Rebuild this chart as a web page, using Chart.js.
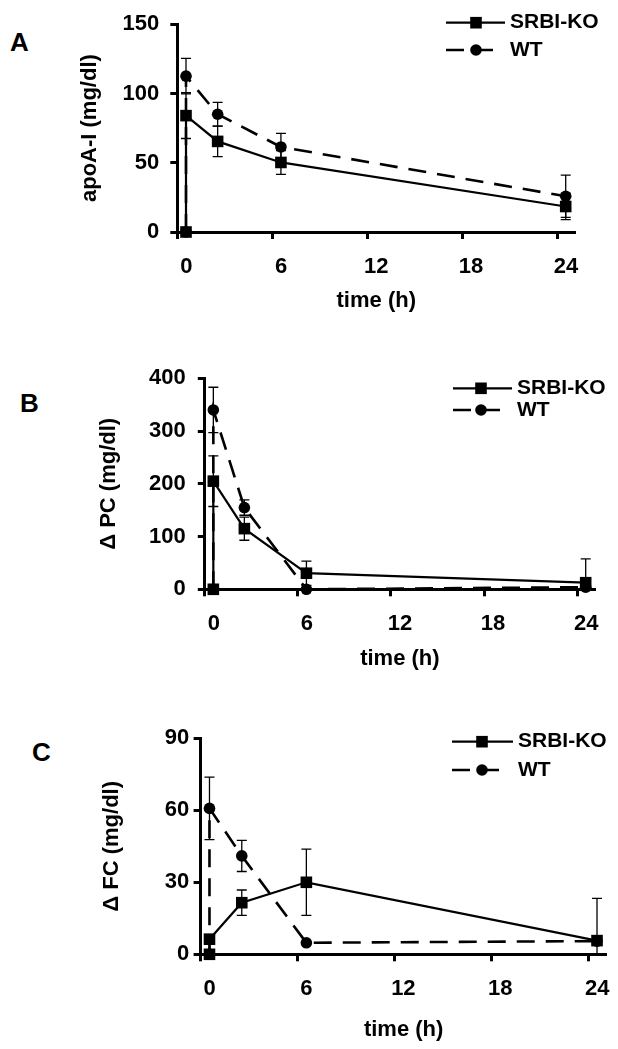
<!DOCTYPE html>
<html>
<head>
<meta charset="utf-8">
<script src="https://cdn.jsdelivr.net/npm/chart.js@4.4.1/dist/chart.umd.min.js"></script>
<style>
html,body{margin:0;padding:0;background:#fff;}
body{width:618px;height:1049px;position:relative;overflow:hidden;font-family:"Liberation Sans",Arial,sans-serif;}
canvas{position:absolute;left:0;}
.letter{position:absolute;font-weight:bold;font-size:26px;line-height:1;color:#000;font-family:"Liberation Sans",Arial,sans-serif;}
</style>
</head>
<body>
<div class="letter" style="left:10px;top:29px;">A</div>
<div class="letter" style="left:20px;top:390px;">B</div>
<div class="letter" style="left:32px;top:739px;">C</div>
<canvas id="cA" width="618" height="340" style="top:0px;width:618px;height:340px;"></canvas>
<canvas id="cB" width="618" height="365" style="top:340px;width:618px;height:365px;"></canvas>
<canvas id="cC" width="618" height="344" style="top:705px;width:618px;height:344px;"></canvas>
<script>
// ---------- data ----------
const timeH = [0, 0, 2, 6, 24];
const xTickValues = [0, 6, 12, 18, 24];
const xTickLabels = ['0', '6', '12', '18', '24'];
const seriesNames = ['SRBI-KO', 'WT'];
const xTitle = 'time (h)';

// Panel A: apoA-I
const apoA_SRBIKO = [0, 84, 65.4, 50.2, 18.4];
const apoA_SRBIKO_err = [0, 16.5, 11, 8.6, 9.5];
const apoA_WT = [0, 112.5, 85, 61.4, 25.8];
const apoA_WT_err = [0, 12.8, 8.6, 9.8, 15.2];
const apoA_yTicks = [0, 50, 100, 150];
const apoA_yTickLabels = ['0', '50', '100', '150'];

// Panel B: delta PC
const pc_SRBIKO = [0, 205, 115, 30.5, 12.5];
const pc_SRBIKO_err = [0, 48, 22, 23, 45];
const pc_WT = [0, 340, 155, 0, 4];
const pc_WT_err = [0, 43, 14.6, 0, 0];
const pc_yTicks = [0, 100, 200, 300, 400];
const pc_yTickLabels = ['0', '100', '200', '300', '400'];

// Panel C: delta FC
const fc_SRBIKO = [0, 6.3, 21.5, 30, 5.7];
const fc_SRBIKO_err = [0, 0, 5.3, 13.8, 17.6];
const fc_WT = [0, 60.8, 41, 4.8, 5.5];
const fc_WT_err = [0, 13, 6.5, 0, 0];
const fc_yTicks = [0, 30, 60, 90];
const fc_yTickLabels = ['0', '30', '60', '90'];

// ---------- style ----------
const FONT = '"Liberation Sans", Arial, sans-serif';
const X_MIN = -0.55, X_MAX = 24.6;
const LABEL_SHIFT = 9;

function drawMarker(ctx, style, x, y, r) {
  ctx.beginPath();
  if (style === 'rect') {
    const h = r * Math.SQRT1_2;
    ctx.rect(x - h, y - h, 2 * h, 2 * h);
  } else {
    ctx.arc(x, y, r, 0, Math.PI * 2);
  }
  ctx.fill();
}

const errorBarPlugin = {
  id: 'errorBars',
  beforeDatasetsDraw(chart) {
    const ctx = chart.ctx, area = chart.chartArea, ys = chart.scales.y;
    ctx.save();
    ctx.beginPath();
    ctx.rect(area.left - 20, area.top - 20, area.right - area.left + 40, area.bottom - area.top + 20);
    ctx.clip();
    ctx.strokeStyle = '#000';
    ctx.lineWidth = 1.3;
    chart.data.datasets.forEach((ds, i) => {
      const meta = chart.getDatasetMeta(i);
      ds.errors.forEach((e, j) => {
        if (!e) return;
        const x = meta.data[j].x;
        const v = ds.data[j].y;
        const yt = ys.getPixelForValue(v + e);
        const yb = ys.getPixelForValue(v - e);
        ctx.beginPath();
        ctx.moveTo(x, yt); ctx.lineTo(x, yb);
        ctx.moveTo(x - 5, yt); ctx.lineTo(x + 5, yt);
        ctx.moveTo(x - 5, yb); ctx.lineTo(x + 5, yb);
        ctx.stroke();
      });
    });
    ctx.restore();
  }
};

const sampleLegendPlugin = {
  id: 'sampleLegend',
  afterDatasetsDraw(chart, args, o) {
    const ctx = chart.ctx;
    chart.data.datasets.forEach((ds, i) => {
      const y = o.y + i * o.rowGap;
      const x1 = ds.borderDash ? o.x0 + 48 : o.x1;
      ctx.save();
      ctx.strokeStyle = '#000';
      ctx.fillStyle = '#000';
      ctx.lineWidth = ds.borderWidth;
      ctx.setLineDash(ds.borderDash || []);
      ctx.beginPath();
      ctx.moveTo(o.x0, y); ctx.lineTo(x1, y);
      ctx.stroke();
      ctx.setLineDash([]);
      drawMarker(ctx, ds.pointStyle, o.mx, y, ds.pointRadius);
      ctx.font = 'bold 21px ' + FONT;
      ctx.textBaseline = 'middle';
      ctx.textAlign = 'left';
      ctx.fillText(ds.label, o.tx, y);
      ctx.restore();
    });
  }
};

function makePanel(p) {
  const W = 618;
  const ko = p.ko.map((v, i) => ({x: timeH[i], y: v}));
  const wt = p.wt.map((v, i) => ({x: timeH[i], y: v}));
  const tickFont = {family: FONT, size: 22, weight: 'bold'};
  const titleFont = {family: FONT, size: 22, weight: 'bold'};
  new Chart(document.getElementById(p.id), {
    type: 'line',
    data: {
      datasets: [
        {label: seriesNames[0], data: ko, errors: p.koErr, borderColor: '#000', backgroundColor: '#000',
         borderWidth: 2.2, pointStyle: 'rect', pointRadius: 8.2, pointBorderWidth: 0, tension: 0, clip: false},
        {label: seriesNames[1], data: wt, errors: p.wtErr, borderColor: '#000', backgroundColor: '#000',
         borderWidth: 2.6, borderDash: [18, 11], pointStyle: 'circle', pointRadius: 5.8, pointBorderWidth: 0, tension: 0, clip: false}
      ]
    },
    options: {
      responsive: false,
      animation: false,
      devicePixelRatio: 1,
      layout: {padding: {left: 0, top: p.area.top, right: W - p.area.right, bottom: p.H - p.area.bottom - p.xAxisH}},
      plugins: {legend: {display: false}, tooltip: {enabled: false}, sampleLegend: p.legend},
      scales: {
        x: {
          type: 'linear', min: X_MIN, max: X_MAX,
          afterBuildTicks: s => { s.ticks = xTickValues.map(v => ({value: v + X_MIN})); },
          afterFit: s => { s.height = p.xAxisH; },
          ticks: {callback: (v, i) => xTickLabels[i], labelOffset: LABEL_SHIFT, padding: 14.5, font: tickFont, color: '#000', maxRotation: 0, autoSkip: false},
          grid: {drawOnChartArea: false, tickLength: 7, tickWidth: 3, tickColor: '#000'},
          border: {color: '#000', width: 3},
          title: {display: true, text: xTitle, font: titleFont, color: '#000', padding: {top: 0, bottom: 0}}
        },
        y: {
          type: 'linear', min: p.yTicks[0], max: p.yTicks[p.yTicks.length - 1],
          afterBuildTicks: s => { s.ticks = p.yTicks.map(v => ({value: v})); },
          afterFit: s => { s.width = p.area.left; },
          ticks: {callback: (v, i) => p.yTickLabels[i], padding: p.yTickPad, font: tickFont, color: '#000', autoSkip: false},
          grid: {drawOnChartArea: false, tickLength: 7, tickWidth: 3, tickColor: '#000'},
          border: {color: '#000', width: 3},
          title: {display: true, text: p.yTitle, font: titleFont, color: '#000', padding: {top: p.yTitleX - 13.2, bottom: 0}}
        }
      }
    },
    plugins: [errorBarPlugin, sampleLegendPlugin]
  });
}

makePanel({
  id: 'cA', H: 340, yTitle: 'apoA-I (mg/dl)',
  ko: apoA_SRBIKO, koErr: apoA_SRBIKO_err, wt: apoA_WT, wtErr: apoA_WT_err,
  yTicks: apoA_yTicks, yTickLabels: apoA_yTickLabels,
  area: {left: 177.3, right: 575.2, top: 17.3, bottom: 232},
  xAxisH: 82.2, yTickPad: 11, yTitleX: 90,
  legend: {x0: 446, x1: 505, mx: 476, tx: 510, y: 22.7, rowGap: 27.3}
});
makePanel({
  id: 'cB', H: 365, yTitle: '\u0394 PC (mg/dl)',
  ko: pc_SRBIKO, koErr: pc_SRBIKO_err, wt: pc_WT, wtErr: pc_WT_err,
  yTicks: pc_yTicks, yTickLabels: pc_yTickLabels,
  area: {left: 204.8, right: 595, top: 38.3, bottom: 249.3},
  xAxisH: 82.9, yTickPad: 12, yTitleX: 109,
  legend: {x0: 453, x1: 512, mx: 481, tx: 517, y: 48.3, rowGap: 21.7}
});
makePanel({
  id: 'cC', H: 344, yTitle: '\u0394 FC (mg/dl)',
  ko: fc_SRBIKO, koErr: fc_SRBIKO_err, wt: fc_WT, wtErr: fc_WT_err,
  yTicks: fc_yTicks, yTickLabels: fc_yTickLabels,
  area: {left: 200.6, right: 606.7, top: 33.3, bottom: 249.3},
  xAxisH: 88.9, yTickPad: 4.3, yTitleX: 112,
  legend: {x0: 452, x1: 513, mx: 482, tx: 518, y: 36.7, rowGap: 28.3}
});
</script>
</body>
</html>
